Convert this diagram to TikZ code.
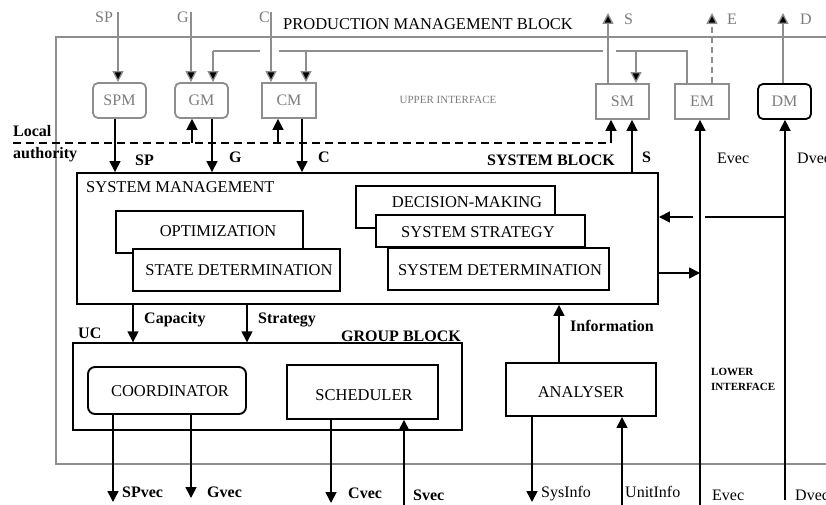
\documentclass[tikz,border=0pt]{standalone}
\usepackage{fontspec}
\setmainfont{Liberation Serif}
\usetikzlibrary{arrows.meta}
\definecolor{gr}{HTML}{8E8E8E}
\definecolor{grt}{HTML}{7C7C7C}
\begin{document}
\begin{tikzpicture}[x=1pt,y=-1pt,
  tip/.style={-{Triangle[length=11pt,width=11pt]}},
  gline/.style={draw=gr,line width=1.3pt},
  garr/.style={draw=gr,line width=1.3pt,-{Triangle[length=11pt,width=11pt,fill=black]}},
  bline/.style={draw=black,line width=1.6pt},
  barr/.style={draw=black,line width=1.6pt,-{Triangle[length=11pt,width=11pt]}},
  gbox/.style={draw=gr,line width=1.8pt,minimum width=53pt,minimum height=35pt,inner sep=0pt,text=grt,font=\fontsize{16}{18}\selectfont},
  ibox/.style={draw=black,line width=1.2pt,fill=white,inner sep=0pt},
  tbox/.style={draw=black,line width=1.9pt,fill=white,inner sep=0pt},
  txt/.style={inner sep=0pt,font=\fontsize{16.5}{18}\selectfont},
  lbl/.style={inner sep=0pt,anchor=base west,font=\bfseries\fontsize{16}{18}\selectfont},
  rlbl/.style={inner sep=0pt,anchor=base west,font=\fontsize{16}{18}\selectfont},
  glbl/.style={inner sep=0pt,anchor=base west,text=grt,font=\fontsize{16}{18}\selectfont},
  small/.style={inner sep=0pt,anchor=base west,font=\bfseries\fontsize{11}{13}\selectfont}]
\useasboundingbox (0,0) rectangle (826,505);
\fill[white] (0,0) rectangle (826,505);

% outer production management block
\draw[gline] (826,37) -- (56,37) -- (56,464) -- (826,464);
\node[txt,anchor=base west] (pmb) at (283,30) {PRODUCTION MANAGEMENT BLOCK};
\node[inner sep=0pt,text=grt,font=\fontsize{11}{13}\selectfont] (upi) at (448,100) {UPPER INTERFACE};

% upper interface modules
\node[gbox,rounded corners=5pt] (SPM) at (119.5,100.5) {SPM};
\node[gbox,rounded corners=5pt] (GM) at (201.5,100.5) {GM};
\node[gbox,minimum width=54pt] (CM) at (289,100.5) {CM};
\node[gbox] (SM) at (622.5,101.5) {SM};
\node[gbox,minimum width=54pt] (EM) at (702,101.5) {EM};
\node[gbox,draw=black,rounded corners=5pt] (DM) at (784.5,101.5) {DM};

% top labels
\node[glbl] (tSP) at (95,23) {SP};
\node[glbl] (tG) at (177,23) {G};
\node[glbl] (tC) at (259,23) {C};
\node[glbl] (tS) at (624,25) {S};
\node[glbl] (tE) at (727,25) {E};
\node[glbl] (tD) at (800,25) {D};

% top gray connectors
\coordinate (spTop) at (118,12);
\coordinate (gTop) at (191,12);
\coordinate (cTop) at (271,12);
\coordinate (sTop) at (608,13);
\coordinate (eTop) at (712,13);
\coordinate (dTop) at (783,13);
\draw[garr] (spTop) -- (spTop |- SPM.north);
\draw[garr] (gTop) -- (gTop |- GM.north);
\draw[garr] (cTop) -- (cTop |- CM.north);
\draw[garr] (SM.north -| sTop) -- (sTop);
\draw[garr,dash pattern=on 6pt off 4pt] (EM.north -| eTop) -- (eTop);
\draw[garr] (DM.north -| dTop) -- (dTop);

\coordinate (h1) at (213,51);
\coordinate (h1e) at (260,51);
\coordinate (h2) at (279,51);
\coordinate (h2e) at (603,51);
\coordinate (h3) at (616,51);
\coordinate (h4) at (687,51);
\coordinate (hc) at (306,51);
\coordinate (hs) at (636,51);
\draw[gline] (EM.north -| h4) -- (h4) -- (h3);
\draw[gline] (h2e) -- (h2);
\draw[gline] (h1e) -- (h1);
\draw[garr] (h1) -- (h1 |- GM.north);
\draw[garr] (hc) -- (hc |- CM.north);
\draw[garr] (hs) -- (hs |- SM.north);

% local authority
\node[lbl] (loc) at (13,137) {Local};
\node[lbl] (auth) at (13,158) {authority};
\coordinate (la) at (13,143);
\coordinate (laE) at (611,143);
\coordinate (gUp) at (192,143);
\coordinate (cUp) at (278,143);
\draw[bline,line width=1.5pt,dash pattern=on 8pt off 5pt] (la) -- (laE);
\draw[barr] (laE) -- (laE |- SM.south);
\draw[barr] (gUp) -- (gUp |- GM.south);
\draw[barr] (cUp) -- (cUp |- CM.south);

% system block
\node[tbox,minimum width=581pt,minimum height=131pt] (sys) at (367.5,238.5) {};
\node[lbl,anchor=base east] (sysb) at (615,166) {SYSTEM BLOCK};
\node[txt,anchor=base west] (sysm) at (86,192) {SYSTEM MANAGEMENT};

\node[ibox,minimum width=187pt,minimum height=42pt] (opt) at (209.5,232) {};
\node[txt] (optT) at (218,231) {OPTIMIZATION};
\node[ibox,minimum width=207pt,minimum height=42pt] (state) at (236.5,270) {};
\node[txt] (stateT) at (239,270) {STATE DETERMINATION};

\node[ibox,minimum width=199pt,minimum height=42pt] (dec) at (455.5,207) {};
\node[txt] (decT) at (467,202) {DECISION-MAKING};
\node[ibox,minimum width=209pt,minimum height=32pt] (strat) at (480.5,231) {};
\node[txt] (stratT) at (478,232) {SYSTEM STRATEGY};
\node[ibox,minimum width=221pt,minimum height=42pt] (sdet) at (498.5,269) {};
\node[txt] (sdetT) at (500,270) {SYSTEM DETERMINATION};

% connectors into system block
\coordinate (spd) at (115,0);
\coordinate (gd) at (212,0);
\coordinate (cd) at (302,0);
\coordinate (su) at (632,0);
\draw[barr] (SPM.south -| spd) -- (spd |- sys.north);
\draw[barr] (GM.south -| gd) -- (gd |- sys.north);
\draw[barr] (CM.south -| cd) -- (cd |- sys.north);
\draw[barr] (sys.north -| su) -- (su |- SM.south);
\node[lbl] (lSP) at (135,165) {SP};
\node[lbl] (lG) at (229,163) {G};
\node[lbl] (lC) at (318,163) {C};
\node[lbl] (lS) at (642,162) {S};

% Evec / Dvec lines
\coordinate (ev) at (700,505);
\coordinate (dv) at (785,500);
\draw[barr] (ev) -- (ev |- EM.south);
\draw[barr] (dv) -- (dv |- DM.south);
\node[rlbl] (lEv) at (717,164) {Evec};
\node[rlbl] (lDv) at (797,164) {Dvec};
\coordinate (dh) at (785,217);
\coordinate (dh2) at (705,217);
\coordinate (dh3) at (693,217);
\draw[bline] (dh) -- (dh2);
\draw[barr] (dh3) -- (dh3 -| sys.east);
\coordinate (eo) at (700,273);
\draw[barr] (eo -| sys.east) -- (eo);

% group block
\node[draw=black,line width=1.4pt,inner sep=0pt,minimum width=389pt,minimum height=87pt] (grp) at (267.5,386.5) {};
\node[lbl,anchor=base east] (grpT) at (461,341) {GROUP BLOCK};
\node[lbl] (uc) at (78,338) {UC};
\node[tbox,rounded corners=7pt,minimum width=158pt,minimum height=47pt] (coord) at (167,390.5) {};
\node[txt] (coordT) at (170,391) {COORDINATOR};
\node[tbox,minimum width=151pt,minimum height=54pt] (sched) at (362.5,392) {};
\node[txt] (schedT) at (364,395) {SCHEDULER};
\node[tbox,minimum width=150pt,minimum height=53pt] (anal) at (581,389.5) {};
\node[txt] (analT) at (581,392) {ANALYSER};

\coordinate (cap) at (133,0);
\coordinate (str) at (247,0);
\coordinate (inf) at (559,0);
\draw[barr] (sys.south -| cap) -- (cap |- grp.north);
\draw[barr] (sys.south -| str) -- (str |- grp.north);
\draw[barr] (anal.north -| inf) -- (inf |- sys.south);
\node[lbl] (lCap) at (144,323) {Capacity};
\node[lbl] (lStr) at (258,323) {Strategy};
\node[lbl] (lInf) at (570,331) {Information};

\node[small] (low1) at (711,375) {LOWER};
\node[small] (low2) at (711,390) {INTERFACE};

% bottom connectors
\coordinate (spv) at (113,502);
\coordinate (gv) at (191,498);
\coordinate (cv) at (331,503);
\coordinate (sv) at (404,505);
\coordinate (si) at (532,502);
\coordinate (ui) at (622,505);
\draw[barr] (coord.south -| spv) -- (spv);
\draw[barr] (coord.south -| gv) -- (gv);
\draw[barr] (sched.south -| cv) -- (cv);
\draw[barr] (sv) -- (sv |- sched.south);
\draw[barr] (anal.south -| si) -- (si);
\draw[barr] (ui) -- (ui |- anal.south);
\node[lbl] (lSPv) at (122,497) {SPvec};
\node[lbl] (lGv) at (207,497) {Gvec};
\node[lbl] (lCv) at (348,498) {Cvec};
\node[lbl] (lSv) at (413,500) {Svec};
\node[rlbl] (lSI) at (541,497) {SysInfo};
\node[rlbl] (lUI) at (625,497) {UnitInfo};
\node[rlbl] (lEv2) at (712,500) {Evec};
\node[rlbl] (lDv2) at (795,500) {Dvec};
\end{tikzpicture}
\end{document}
